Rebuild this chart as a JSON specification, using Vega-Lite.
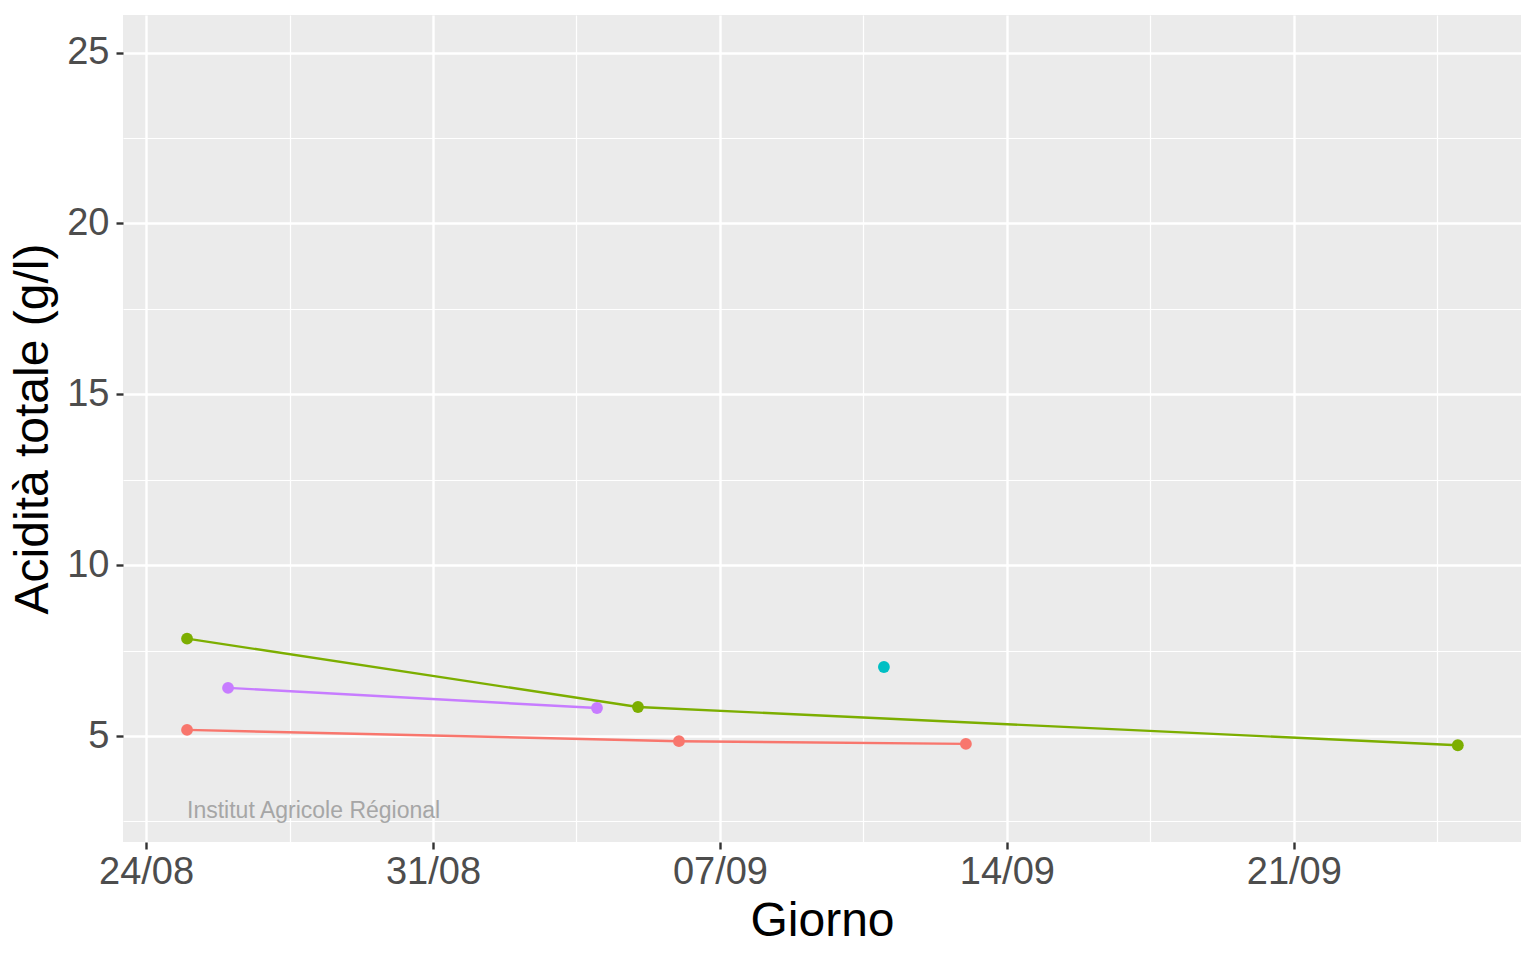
{
  "$schema": "https://vega.github.io/schema/vega-lite/v6.json",
  "width": 1398,
  "height": 827,
  "autosize": {"type": "none"},
  "padding": {"left": 123, "top": 15, "right": 15, "bottom": 118},
  "background": "white",
  "view": {"fill": "#EBEBEB", "stroke": null},
  "config": {
    "font": "Liberation Sans",
    "axis": {
      "domain": false,
      "gridColor": "white",
      "tickColor": "#333333",
      "tickSize": 7,
      "labelColor": "#4D4D4D",
      "labelFontSize": 38,
      "titleColor": "black",
      "titleFontSize": 48,
      "titleFontWeight": "normal"
    }
  },
  "datasets": {
    "misure": [
      {"serie": "A", "giorno": "2023-08-25", "acidita": 5.18},
      {"serie": "A", "giorno": "2023-09-06", "acidita": 4.85},
      {"serie": "A", "giorno": "2023-09-13", "acidita": 4.77},
      {"serie": "B", "giorno": "2023-08-25", "acidita": 7.85},
      {"serie": "B", "giorno": "2023-09-05", "acidita": 5.85},
      {"serie": "B", "giorno": "2023-09-25", "acidita": 4.73},
      {"serie": "C", "giorno": "2023-09-11", "acidita": 7.02},
      {"serie": "D", "giorno": "2023-08-26", "acidita": 6.41},
      {"serie": "D", "giorno": "2023-09-04", "acidita": 5.82}
    ],
    "firma": [
      {"giorno": "2023-08-25", "acidita": 2.6, "testo": "Institut Agricole Régional"}
    ]
  },
  "layer": [
    {
      "data": {"name": "misure"},
      "mark": {"type": "line", "strokeWidth": 2.4},
      "encoding": {
        "x": {
          "field": "giorno",
          "type": "temporal",
          "title": "Giorno",
          "scale": {
            "type": "utc",
            "domain": [
              {"year": 2023, "month": 8, "date": 23, "hours": 10, "minutes": 30, "utc": true},
              {"year": 2023, "month": 9, "date": 26, "hours": 13, "utc": true}
            ]
          },
          "axis": {
            "values": [
              {"year": 2023, "month": 8, "date": 24, "utc": true},
              {"year": 2023, "month": 8, "date": 27, "hours": 12, "utc": true},
              {"year": 2023, "month": 8, "date": 31, "utc": true},
              {"year": 2023, "month": 9, "date": 3, "hours": 12, "utc": true},
              {"year": 2023, "month": 9, "date": 7, "utc": true},
              {"year": 2023, "month": 9, "date": 10, "hours": 12, "utc": true},
              {"year": 2023, "month": 9, "date": 14, "utc": true},
              {"year": 2023, "month": 9, "date": 17, "hours": 12, "utc": true},
              {"year": 2023, "month": 9, "date": 21, "utc": true},
              {"year": 2023, "month": 9, "date": 24, "hours": 12, "utc": true}
            ],
            "labelExpr": "utchours(datum.value) == 12 ? '' : utcFormat(datum.value, '%d/%m')",
            "gridWidth": {"condition": {"test": "utchours(datum.value) == 12", "value": 1.2}, "value": 2.4},
            "tickOpacity": {"condition": {"test": "utchours(datum.value) == 12", "value": 0}, "value": 1},
            "tickWidth": 2.4,
            "labelPadding": 4,
            "titlePadding": 6,
            "labelFlush": false,
            "labelOverlap": false
          }
        },
        "y": {
          "field": "acidita",
          "type": "quantitative",
          "title": "Acidità totale (g/l)",
          "scale": {"domain": [1.9, 26.1], "nice": false, "zero": false},
          "axis": {
            "values": [2.5, 5, 7.5, 10, 12.5, 15, 17.5, 20, 22.5, 25],
            "labelExpr": "datum.value % 5 == 0 ? datum.label : ''",
            "gridWidth": {"condition": {"test": "datum.value % 5 != 0", "value": 1.2}, "value": 2.4},
            "tickOpacity": {"condition": {"test": "datum.value % 5 != 0", "value": 0}, "value": 1},
            "tickWidth": 2.4,
            "labelPadding": 7,
            "titlePadding": 9,
            "labelOverlap": false
          }
        },
        "color": {
          "field": "serie",
          "type": "nominal",
          "scale": {"domain": ["A", "B", "C", "D"], "range": ["#F8766D", "#7CAE00", "#00BFC4", "#C77CFF"]},
          "legend": null
        }
      }
    },
    {
      "data": {"name": "misure"},
      "mark": {"type": "point", "filled": true, "size": 140, "opacity": 1},
      "encoding": {
        "x": {"field": "giorno", "type": "temporal"},
        "y": {"field": "acidita", "type": "quantitative"},
        "color": {"field": "serie", "type": "nominal", "legend": null}
      }
    },
    {
      "data": {"name": "firma"},
      "mark": {"type": "text", "align": "left", "baseline": "alphabetic", "fontSize": 23, "color": "#A6A6A6"},
      "encoding": {
        "x": {"field": "giorno", "type": "temporal"},
        "y": {"field": "acidita", "type": "quantitative"},
        "text": {"field": "testo"}
      }
    }
  ]
}
